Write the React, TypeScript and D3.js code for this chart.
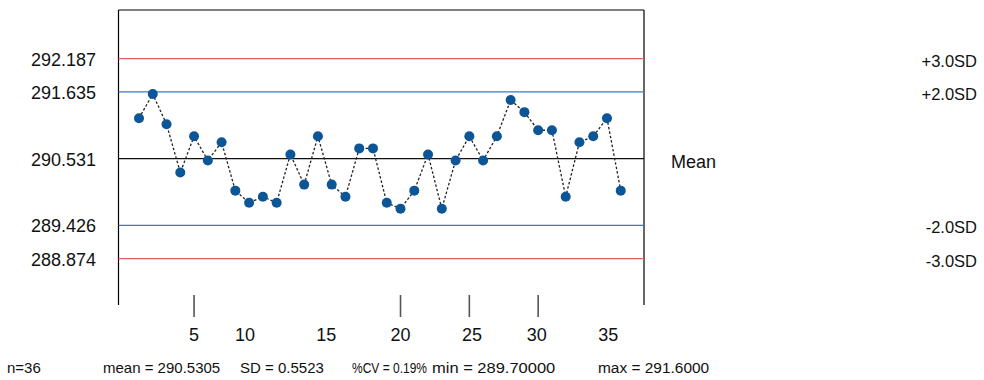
import React from "react";
import * as d3 from "d3";

// ---- data ----
const runIndex = d3.range(1, 37);
const values = [
  291.2, 291.6, 291.1, 290.3, 290.9, 290.5, 290.8, 290.0, 289.8, 289.9,
  289.8, 290.6, 290.1, 290.9, 290.1, 289.9, 290.7, 290.7, 289.8, 289.7,
  290.0, 290.6, 289.7, 290.5, 290.9, 290.5, 290.9, 291.5, 291.3, 291.0,
  291.0, 289.9, 290.8, 290.9, 291.2, 290.0,
];
const meanValue = 290.5305;
const sdValue = 0.5523;
const limitMultipliers = [3, 2, 0, -2, -3];
const limitLeftLabels = ["292.187", "291.635", "290.531", "289.426", "288.874"];
const limitRightLabels = ["+3.0SD", "+2.0SD", "Mean", "-2.0SD", "-3.0SD"];
const tickMarks = [5, 20, 25, 30];
const tickLabels = ["5", "10", "15", "20", "25", "30", "35"];
const tickLabelPositions = [5, 8.7, 14.6, 20, 25.2, 29.9, 35.1];
const statTexts = [
  "n=36",
  "mean = 290.5305",
  "SD = 0.5523",
  "%CV = 0.19%",
  "min = 289.70000",
  "max = 291.6000",
];
const statX = [7, 103, 240, 352, 432, 598];
const statStretch = [1, 1, 1, 0.8, 1.1, 1.03];

// ---- layout ----
const W = 984;
const H = 380;
const left = 118.5;
const right = 644;
const top = 10;
const bottom = 305;
const FONT = "'Liberation Sans', Arial, sans-serif";

const limitColor = (m: number) =>
  Math.abs(m) === 3 ? "#e36060" : Math.abs(m) === 2 ? "#3b78c2" : "#111";

export default function App() {
  const x = d3.scaleLinear().domain([-0.49, 37.69]).range([left, right]);
  const y = d3.scaleLinear().domain([288.107, 292.991]).range([bottom, top]);
  const pts = runIndex.map((i, k) => [x(i), y(values[k])] as [number, number]);
  const line = d3.line()(pts) || "";

  return (
    <svg
      width={W}
      height={H}
      style={{ position: "absolute", left: 0, top: 0, background: "#fff" }}
      fontFamily={FONT}
    >
      {/* frame */}
      <line x1={left} x2={right} y1={top} y2={top} stroke="#000" strokeWidth={1.2} />
      <line x1={left} x2={left} y1={top} y2={bottom} stroke="#000" strokeWidth={1.2} />
      <line x1={right} x2={right} y1={top} y2={bottom} stroke="#000" strokeWidth={1.2} />

      {/* limit lines */}
      {limitMultipliers.map((m, i) => {
        const yy = y(meanValue + m * sdValue);
        return (
          <g key={i}>
            <line
              x1={left}
              x2={right}
              y1={yy}
              y2={yy}
              stroke={limitColor(m)}
              strokeWidth={1.3}
            />
            <text x={96} y={yy + 7} fontSize={18} textAnchor="end" fill="#111">
              {limitLeftLabels[i]}
            </text>
            {m === 0 ? (
              <text x={671} y={yy + 9} fontSize={18} fill="#111">
                {limitRightLabels[i]}
              </text>
            ) : (
              <text x={977} y={yy + 8} fontSize={16.5} textAnchor="end" fill="#111">
                {limitRightLabels[i]}
              </text>
            )}
          </g>
        );
      })}

      {/* data */}
      <path d={line} fill="none" stroke="#222" strokeWidth={1.3} strokeDasharray="2.5,2" />
      {pts.map((p, i) => (
        <circle key={i} cx={p[0]} cy={p[1]} r={5} fill="#0c5597" />
      ))}

      {/* x ticks */}
      {tickMarks.map((t) => (
        <line
          key={t}
          x1={x(t)}
          x2={x(t)}
          y1={295}
          y2={317}
          stroke="#555"
          strokeWidth={1.6}
        />
      ))}
      {tickLabels.map((t, i) => (
        <text
          key={t}
          x={x(tickLabelPositions[i])}
          y={341}
          fontSize={18}
          textAnchor="middle"
          fill="#111"
        >
          {t}
        </text>
      ))}

      {/* stats */}
      {statTexts.map((s, i) => (
        <text
          key={i}
          transform={`translate(${statX[i]},373) scale(${statStretch[i]},1)`}
          fontSize={15}
          fill="#111"
        >
          {s}
        </text>
      ))}
    </svg>
  );
}
